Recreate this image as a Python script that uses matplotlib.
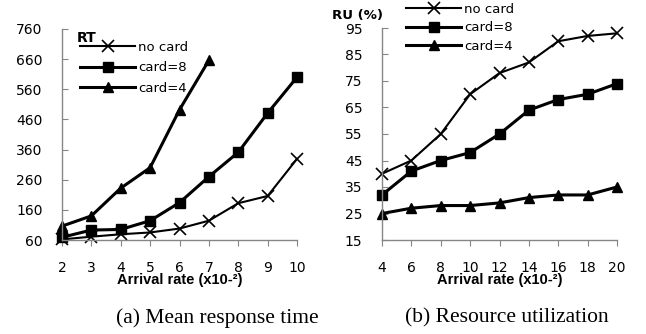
import numpy as np
import matplotlib
matplotlib.use("Agg")
import matplotlib.pyplot as plt

# (a) mean response time
rt_rate = [2, 3, 4, 5, 6, 7, 8, 9, 10]
rt_nocard = [62, 71, 79, 85, 98, 124, 182, 206, 329]
rt_card8 = [69, 93, 95, 124, 184, 270, 351, 481, 600]
rt_card4 = [106, 140, 232, 300, 492, 656]

# (b) resource utilization
ru_rate = [4, 6, 8, 10, 12, 14, 16, 18, 20]
ru_nocard = [40, 45, 55, 70, 78, 82, 90, 92, 93]
ru_card8 = [32, 41, 45, 48, 55, 64, 68, 70, 74]
ru_card4 = [25, 27, 28, 28, 29, 31, 32, 32, 35]

labels = ["no card", "card=8", "card=4"]

W, H = 646, 334
fig = plt.figure(figsize=(W / 100, H / 100), dpi=100)

ax1 = fig.add_axes([62 / W, 1 - 240 / H, (297 - 62) / W, (240 - 29) / H])
ax2 = fig.add_axes([382 / W, 1 - 240 / H, (617 - 382) / W, (240 - 28) / H])


def style(ax):
    for s in ["top", "right"]:
        ax.spines[s].set_visible(False)
    for s in ["left", "bottom"]:
        ax.spines[s].set_color("#868686")
        ax.spines[s].set_linewidth(1.0)
    ax.tick_params(axis="y", direction="in", length=4, color="#868686",
                   labelsize=10, pad=14)
    ax.tick_params(axis="x", direction="out", length=4, color="#868686",
                   labelsize=10, pad=11)
    ax.set_xlabel("Arrival rate (x10-²)", fontsize=10.5, fontweight="bold",
                  family="Liberation Sans", labelpad=-1)


def draw(ax, x, a, b, c):
    ax.plot(x, a, color="black", lw=1.5, marker="x", ms=9, mew=1.2,
            label=labels[0], clip_on=False)
    ax.plot(x, b, color="black", lw=2.2, marker="s", ms=6.5,
            label=labels[1], clip_on=False)
    ax.plot(x[:len(c)], c, color="black", lw=2.2, marker="^", ms=7.5,
            label=labels[2], clip_on=False)


draw(ax1, rt_rate, rt_nocard, rt_card8, rt_card4)
ax1.set_xlim(2, 10)
ax1.set_ylim(60, 760)
ax1.set_xticks(rt_rate)
ax1.set_yticks(np.arange(60, 761, 100))
style(ax1)
ax1.legend(loc="upper left", bbox_to_anchor=(80 / W, 1 - 41 / H),
           bbox_transform=fig.transFigure, frameon=False, fontsize=9.5,
           handlelength=4.2, handletextpad=0.2, labelspacing=0.55,
           borderpad=0, borderaxespad=0)
fig.text(77 / W, 1 - 38 / H, "RT", fontsize=10, fontweight="bold",
         va="center", ha="left")

draw(ax2, ru_rate, ru_nocard, ru_card8, ru_card4)
ax2.set_xlim(4, 20)
ax2.set_ylim(15, 95)
ax2.set_xticks(ru_rate)
ax2.set_yticks(np.arange(15, 96, 10))
style(ax2)
ax2.legend(loc="upper left", bbox_to_anchor=(406 / W, 1 - 3 / H),
           bbox_transform=fig.transFigure, frameon=False, fontsize=9.5,
           handlelength=4.2, handletextpad=0.2, labelspacing=0.4,
           borderpad=0, borderaxespad=0)
fig.text(332 / W, 1 - 15 / H, "RU (%)", fontsize=9.5, fontweight="bold",
         va="center", ha="left")

fig.text(217 / W, 1 - 318 / H, "(a) Mean response time", fontsize=15.5,
         family="Liberation Serif", ha="center", va="center")
fig.text(507 / W, 1 - 318 / H, "(b) Resource utilization", fontsize=15.5,
         family="Liberation Serif", ha="center", va="center")

fig.savefig("out.png", dpi=100)
